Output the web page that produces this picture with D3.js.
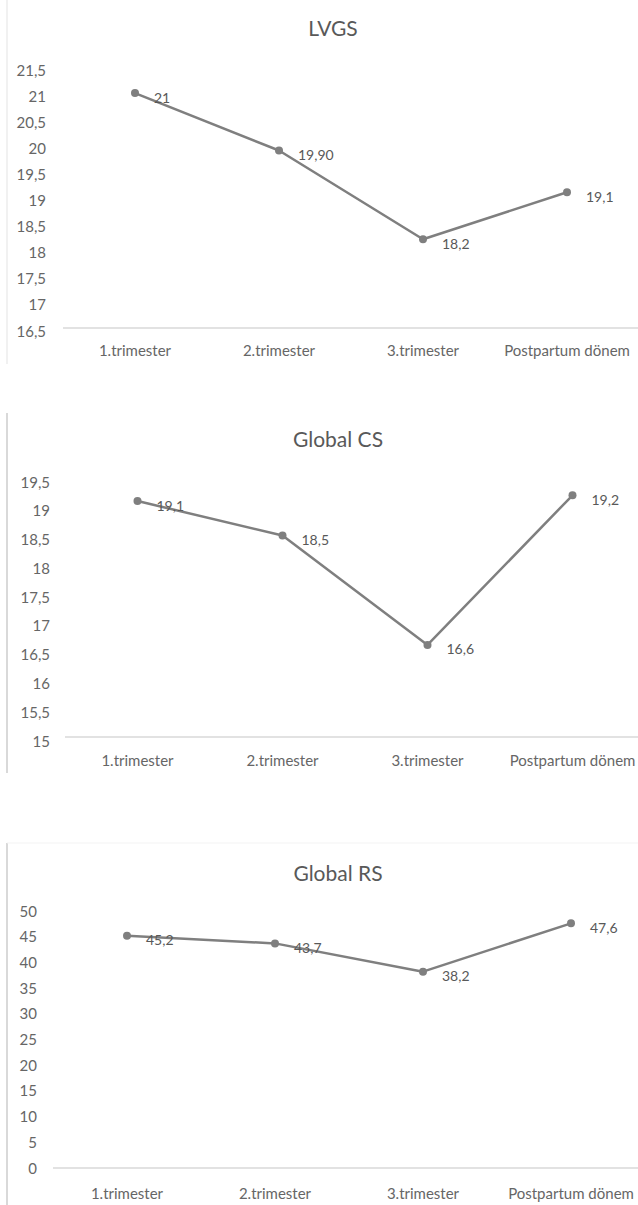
<!DOCTYPE html>
<html>
<head>
<meta charset="utf-8">
<script src="https://cdn.jsdelivr.net/npm/d3@7"></script>
<style>
  html, body { margin: 0; padding: 0; background: #fff; }
  svg { display: block; }
  text { font-family: Lato, "Open Sans", sans-serif; }
</style>
</head>
<body>
<svg id="chart" width="638" height="1205"></svg>
<script>
// ---- data ----
const categories = ["1.trimester", "2.trimester", "3.trimester", "Postpartum dönem"];

const lvgsTitle = "LVGS";
const lvgsValues = [21, 19.9, 18.2, 19.1];
const lvgsLabels = ["21", "19,90", "18,2", "19,1"];
const lvgsTicks = ["16,5", "17", "17,5", "18", "18,5", "19", "19,5", "20", "20,5", "21", "21,5"];

const csTitle = "Global CS";
const csValues = [19.1, 18.5, 16.6, 19.2];
const csLabels = ["19,1", "18,5", "16,6", "19,2"];
const csTicks = ["15", "15,5", "16", "16,5", "17", "17,5", "18", "18,5", "19", "19,5"];

const rsTitle = "Global RS";
const rsValues = [45.2, 43.7, 38.2, 47.6];
const rsLabels = ["45,2", "43,7", "38,2", "47,6"];
const rsTicks = ["0", "5", "10", "15", "20", "25", "30", "35", "40", "45", "50"];

// ---- layout (not data) ----
const panels = [
  { title: lvgsTitle, values: lvgsValues, labels: lvgsLabels, ticks: lvgsTicks,
    yTop: 67, yBot: 328, xStart: 63, xEnd: 639, tickX: 46, tickDy: 2, catY: 350,
    titleX: 333, titleY: 27, border: { x: 7, y1: 0, y2: 364, color: "#f1f1f1", top: null } },
  { title: csTitle, values: csValues, labels: csLabels, ticks: csTicks,
    yTop: 478, yBot: 737, xStart: 65, xEnd: 645, tickX: 50, tickDy: 3, catY: 760,
    titleX: 338, titleY: 438, border: { x: 7, y1: 413, y2: 773, color: "#d9d9d9", top: null } },
  { title: rsTitle, values: rsValues, labels: rsLabels, ticks: rsTicks,
    yTop: 911, yBot: 1168, xStart: 53, xEnd: 645, tickX: 37, tickDy: -1, catY: 1193,
    titleX: 338, titleY: 872, border: { x: 7, y1: 843, y2: 1205, color: "#d9d9d9", top: 843 } }
];

const svg = d3.select("#chart");
svg.append("rect").attr("width", 638).attr("height", 1205).attr("fill", "#fff");

const parseTick = s => +s.replace(",", ".");
const lineColor = "#7f7f7f";
const textColor = "#595959";

panels.forEach(p => {
  const g = svg.append("g");
  const tickVals = p.ticks.map(parseTick);
  const y = d3.scaleLinear()
    .domain([d3.min(tickVals), d3.max(tickVals)])
    .range([p.yBot, p.yTop]);
  const x = d3.scaleBand().domain(categories).range([p.xStart, p.xEnd]);

  // frame lines
  g.append("line")
    .attr("x1", p.border.x).attr("x2", p.border.x)
    .attr("y1", p.border.y1).attr("y2", p.border.y2)
    .attr("stroke", p.border.color).attr("stroke-width", 2);
  if (p.border.top !== null) {
    g.append("line")
      .attr("x1", p.border.x).attr("x2", 638)
      .attr("y1", p.border.top).attr("y2", p.border.top)
      .attr("stroke", "#f3f3f3").attr("stroke-width", 1);
  }

  // title
  g.append("text")
    .attr("x", p.titleX).attr("y", p.titleY)
    .attr("text-anchor", "middle").attr("dominant-baseline", "central")
    .attr("font-size", 21).attr("fill", textColor)
    .text(p.title);

  // y axis (labels only)
  const yAxis = d3.axisLeft(y)
    .tickValues(tickVals)
    .tickFormat((d, i) => p.ticks[i])
    .tickSize(0).tickPadding(0);
  const ya = g.append("g").attr("transform", `translate(${p.tickX},0)`).call(yAxis);
  ya.select(".domain").remove();
  ya.selectAll("text")
    .attr("font-family", "Lato, sans-serif")
    .attr("font-size", 15).attr("fill", "#666")
    .attr("dy", null)
    .attr("y", p.tickDy)
    .attr("dominant-baseline", "central");

  // x axis
  const xAxis = d3.axisBottom(x).tickSize(0).tickPadding(0);
  const xa = g.append("g").attr("transform", `translate(0,${p.yBot})`).call(xAxis);
  xa.select(".domain").attr("stroke", "#d9d9d9").attr("stroke-width", 1.5)
    .attr("d", `M${p.xStart},0H${p.xEnd}`);
  xa.selectAll("text")
    .attr("font-family", "Lato, sans-serif")
    .attr("font-size", 15).attr("fill", "#666")
    .attr("dy", null)
    .attr("y", p.catY - p.yBot)
    .attr("dominant-baseline", "central");

  const cx = d => x(d) + x.bandwidth() / 2;
  const pts = categories.map((c, i) => ({ c, v: p.values[i], l: p.labels[i] }));

  const line = d3.line().x(d => cx(d.c)).y(d => y(d.v));
  g.append("path").datum(pts)
    .attr("d", line).attr("fill", "none")
    .attr("stroke", lineColor).attr("stroke-width", 2.5)
    .attr("stroke-linejoin", "round");

  g.selectAll("circle.pt").data(pts).join("circle")
    .attr("class", "pt")
    .attr("cx", d => cx(d.c)).attr("cy", d => y(d.v))
    .attr("r", 4).attr("fill", lineColor);

  g.selectAll("text.lbl").data(pts).join("text")
    .attr("class", "lbl")
    .attr("x", d => cx(d.c) + 19).attr("y", d => y(d.v) + 4)
    .attr("dominant-baseline", "central")
    .attr("font-size", 14).attr("fill", textColor)
    .text(d => d.l);
});
</script>
</body>
</html>
